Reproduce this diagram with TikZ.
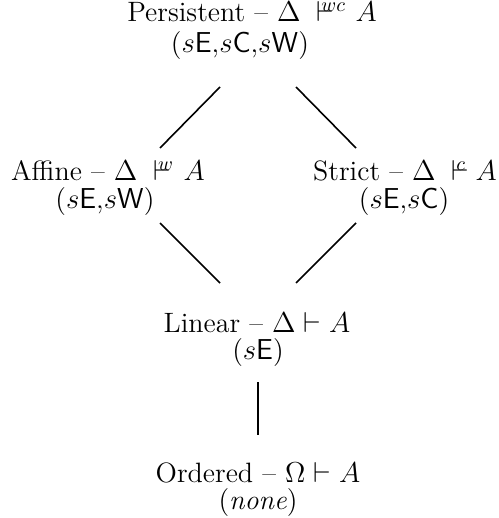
\documentclass[tikz,border=0pt]{standalone}
\newcommand{\tsym}[1]{\mathord{\vdash\mkern-13mu{}^{#1}}}
\begin{document}
\begin{tikzpicture}[x=0.5pt,y=-0.5pt,
  lbl/.style={anchor=base,inner sep=0pt,font=\fontsize{14}{16}\selectfont},
  conn/.style={line width=0.8pt}]
\useasboundingbox (0,0) rectangle (498,518);
\node[lbl] (per1) at (252,22) {Persistent -- $\Delta\mkern10mu\tsym{wc}\mkern6mu A$};
\node[lbl] (per2) at (240,53) {($s\mathsf{E}$,$s\mathsf{C}$,$s\mathsf{W}$)};
\node[lbl] (aff1) at (108,181) {Affine -- $\Delta\mkern10mu\tsym{w}\mkern6mu A$};
\node[lbl] (aff2) at (105,208) {($s\mathsf{E}$,$s\mathsf{W}$)};
\node[lbl] (str1) at (405,181) {Strict -- $\Delta\mkern10mu\tsym{c}\mkern6mu A$};
\node[lbl] (str2) at (404,208) {($s\mathsf{E}$,$s\mathsf{C}$)};
\node[lbl] (lin1) at (257,332) {Linear -- $\Delta\vdash A$};
\node[lbl] (lin2) at (258,359) {($s\mathsf{E}$)};
\node[lbl] (ord1) at (258,482) {Ordered -- $\Omega\vdash A$};
\node[lbl] (ord2) at (258,509) {(\textit{none})};
\coordinate (pa) at (220,87);
\coordinate (ap) at (160,148);
\coordinate (ps) at (296,87);
\coordinate (sp) at (356,148);
\coordinate (al) at (160,223);
\coordinate (la) at (220,283);
\coordinate (sl) at (356,223);
\coordinate (ls) at (296,283);
\coordinate (lo) at (258,382);
\coordinate (ol) at (258,435);
\draw[conn] (pa) -- (ap);
\draw[conn] (ps) -- (sp);
\draw[conn] (al) -- (la);
\draw[conn] (sl) -- (ls);
\draw[conn] (lo) -- (ol);
\end{tikzpicture}
\end{document}
